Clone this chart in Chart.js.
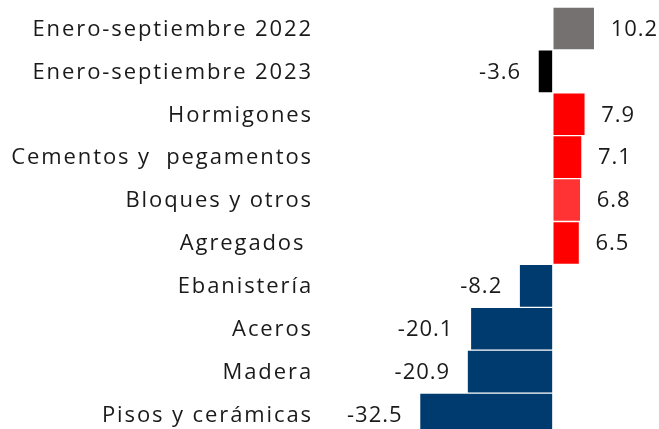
<!DOCTYPE html>
<html>
<head>
<meta charset="utf-8">
<script src="https://cdn.jsdelivr.net/npm/chart.js@4"></script>
<style>
  html, body { margin: 0; padding: 0; background: #fff; overflow: hidden; }
  #wrap { width: 659px; height: 436px; position: relative; }
</style>
</head>
<body>
<div id="wrap"><canvas id="chart"></canvas></div>
<script>
'use strict';

/* DATA */
const categories = ['Enero-septiembre 2022', 'Enero-septiembre 2023', 'Hormigones', 'Cementos y  pegamentos', 'Bloques y otros', 'Agregados ', 'Ebanistería', 'Aceros', 'Madera', 'Pisos y cerámicas'];
const values = [10.2, -3.6, 7.9, 7.1, 6.8, 6.5, -8.2, -20.1, -20.9, -32.5];
const barColors = ['#767171', '#000000', '#FF0000', '#FF0000', '#FF3333', '#FF0000', '#003B6F', '#003B6F', '#003B6F', '#003B6F'];

const FONT = "'Open Sans', sans-serif";
const TEXT = '#1a1a1a';

/* CATEGORY + VALUE LABELS (drawn by hand to get the wide letter spacing) */
const labelsPlugin = {
  id: 'labelsPlugin',
  afterDatasetsDraw(chart) {
    const { ctx } = chart;
    const meta = chart.getDatasetMeta(0);
    const yScale = chart.scales.y;
    ctx.save();
    ctx.fillStyle = TEXT;
    ctx.textBaseline = 'middle';
    // categories
    ctx.font = '22px ' + FONT;
    ctx.letterSpacing = '1.9px';
    ctx.textAlign = 'right';
    categories.forEach((c, i) => {
      ctx.fillText(c, chart.chartArea.left - 7, yScale.getPixelForValue(i) + 1);
    });
    // values
    ctx.letterSpacing = '1px';
    meta.data.forEach((bar, i) => {
      const v = values[i];
      const txt = v.toFixed(1);
      if (v >= 0) { ctx.textAlign = 'left'; ctx.fillText(txt, bar.x + 16, bar.y + 1); }
      else { ctx.textAlign = 'right'; ctx.fillText(txt, bar.x - 17, bar.y + 1); }
    });
    ctx.restore();
  }
};

new Chart(document.getElementById('chart'), {
  type: 'bar',
  data: {
    labels: categories,
    datasets: [{
      data: values,
      backgroundColor: barColors,
      borderColor: '#ffffff',
      borderWidth: 1,
      borderSkipped: false,
      barPercentage: 1,
      categoryPercentage: 1,
    }]
  },
  options: {
    indexAxis: 'y',
    responsive: true,
    maintainAspectRatio: false,
    animation: false,
    layout: { padding: { top: 7, right: 0, bottom: 0, left: 320 } },
    plugins: { legend: { display: false }, tooltip: { enabled: false } },
    scales: {
      x: { display: false, min: -56.8, max: 25.9 },
      y: { display: false }
    }
  },
  plugins: [labelsPlugin]
});
</script>
</body>
</html>
